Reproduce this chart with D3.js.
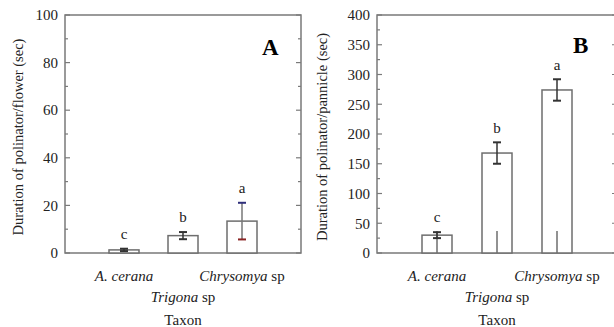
<!DOCTYPE html>
<html>
<head>
<meta charset="utf-8">
<script src="https://cdn.jsdelivr.net/npm/d3@7"></script>
<style>
  body { margin: 0; background: #fff; }
  svg { display: block; }
</style>
</head>
<body>
<svg id="chart" width="614" height="327"></svg>
<script>
// Taxa on the x axis (italic genus part + plain suffix)
const taxonItalic = ["A. cerana", "Trigona", "Chrysomya"];
const taxonSuffix = ["", " sp", " sp"];

// Panel A: duration per flower (sec)
const flowerMeans = [1.3, 7.3, 13.4];
const flowerErr = [0.5, 1.5, 7.7];
const flowerLetters = ["c", "b", "a"];
const flowerTicks = [0, 20, 40, 60, 80, 100];
const flowerMinor = [10, 30, 50, 70, 90];

// Panel B: duration per panicle (sec)
const panicleMeans = [30, 168, 274];
const panicleErr = [5, 18, 18];
const panicleStub = [37, 37, 37];
const panicleLetters = ["c", "b", "a"];
const panicleTicks = [0, 50, 100, 150, 200, 250, 300, 350, 400];
const panicleMinor = [25, 75, 125, 175, 225, 275, 325, 375];

const FONT = "Liberation Serif";
const svg = d3.select("#chart");
const TOP = 15, BOTTOM = 253;
const AXIS = "#7a7a7a", INK = "#222";

function drawPanel(opts) {
  const g = svg.append("g").attr("font-family", FONT);
  const x = d3.scaleLinear().domain([0, 4]).range([opts.left, opts.right]);
  const y = d3.scaleLinear().domain([0, opts.max]).range([BOTTOM, TOP]);
  const barW = 30;

  // frame
  g.append("path")
    .attr("d", `M${opts.left},${BOTTOM}V${TOP}H${opts.right}V${BOTTOM}Z`)
    .attr("fill", "none").attr("stroke", AXIS).attr("stroke-width", 1.5);

  // ticks (inward on both sides)
  const tickG = g.append("g").attr("stroke", AXIS).attr("stroke-width", 1.2);
  opts.ticks.forEach(t => {
    tickG.append("line").attr("x1", opts.left).attr("x2", opts.left + 5)
      .attr("y1", y(t)).attr("y2", y(t));
    tickG.append("line").attr("x1", opts.right).attr("x2", opts.right - 5)
      .attr("y1", y(t)).attr("y2", y(t));
  });
  opts.minor.forEach(t => {
    tickG.append("line").attr("x1", opts.left).attr("x2", opts.left + 3)
      .attr("y1", y(t)).attr("y2", y(t));
    tickG.append("line").attr("x1", opts.right).attr("x2", opts.right - 3)
      .attr("y1", y(t)).attr("y2", y(t));
  });

  g.selectAll(".tl").data(opts.ticks).join("text")
    .attr("x", opts.left - 7).attr("y", d => y(d)).attr("dy", "0.35em")
    .attr("text-anchor", "end").attr("font-size", 15).attr("fill", INK)
    .text(d => d);

  // bars
  g.selectAll(".bar").data(opts.means).join("rect")
    .attr("x", (d, i) => x(i + 1) - barW / 2)
    .attr("y", d => y(d))
    .attr("width", barW)
    .attr("height", d => BOTTOM - y(d))
    .attr("fill", "#fff").attr("stroke", "#6e6e6e").attr("stroke-width", 1.5);

  // stubs from baseline
  if (opts.stub) {
    g.selectAll(".stub").data(opts.stub).join("line")
      .attr("x1", (d, i) => x(i + 1)).attr("x2", (d, i) => x(i + 1))
      .attr("y1", BOTTOM).attr("y2", d => y(d))
      .attr("stroke", "#6e6e6e").attr("stroke-width", 1.5);
  }

  // error bars + significance letters
  opts.means.forEach((m, i) => {
    const cx = x(i + 1);
    const hi = y(m + opts.err[i]), lo = y(m - opts.err[i]);
    const eg = g.append("g").attr("stroke-width", 1.5);
    eg.append("line").attr("x1", cx).attr("x2", cx).attr("y1", hi).attr("y2", lo)
      .attr("stroke", opts.errLine[i]);
    eg.append("line").attr("x1", cx - 4).attr("x2", cx + 4).attr("y1", hi).attr("y2", hi)
      .attr("stroke", opts.capTop[i]).attr("stroke-width", 2);
    eg.append("line").attr("x1", cx - 4).attr("x2", cx + 4).attr("y1", lo).attr("y2", lo)
      .attr("stroke", opts.capBot[i]).attr("stroke-width", 2);
    g.append("text").attr("x", cx).attr("y", hi - 15).attr("dy", "0.35em")
      .attr("text-anchor", "middle").attr("font-size", 15).attr("fill", INK)
      .text(opts.letters[i]);
  });

  // category labels
  taxonItalic.forEach((name, i) => {
    const t = g.append("text").attr("x", x(i + 1)).attr("y", i % 2 ? 302 : 281)
      .attr("text-anchor", "middle").attr("font-size", 15).attr("fill", INK);
    t.append("tspan").attr("font-style", "italic").text(name);
    if (taxonSuffix[i]) t.append("tspan").text(taxonSuffix[i]);
  });
  g.append("text").attr("x", x(2)).attr("y", 325)
    .attr("text-anchor", "middle").attr("font-size", 15).attr("fill", INK)
    .text("Taxon");

  // y title
  g.append("text")
    .attr("transform", `translate(${opts.titleX},${(TOP + BOTTOM) / 2 + 3}) rotate(-90)`)
    .attr("dy", "0.35em").attr("text-anchor", "middle")
    .attr("font-size", 14.5).attr("fill", INK)
    .text(opts.title);

  // panel letter
  g.append("text").attr("x", opts.letterX).attr("y", opts.letterY)
    .attr("font-size", 23).attr("font-weight", "bold").attr("fill", "#000")
    .text(opts.letter);
}

drawPanel({
  left: 65, right: 301, max: 100,
  ticks: flowerTicks, minor: flowerMinor,
  means: flowerMeans, err: flowerErr, letters: flowerLetters,
  errLine: ["#333", "#333", "#777"],
  capTop: ["#333", "#333", "#2e2e7a"],
  capBot: ["#333", "#333", "#8a2323"],
  title: "Duration of polinator/flower (sec)", titleX: 18,
  letter: "A", letterX: 262, letterY: 55
});

drawPanel({
  left: 377, right: 617, max: 400,
  ticks: panicleTicks, minor: panicleMinor,
  means: panicleMeans, err: panicleErr, letters: panicleLetters, stub: panicleStub,
  errLine: ["#333", "#333", "#333"],
  capTop: ["#333", "#333", "#333"],
  capBot: ["#333", "#333", "#333"],
  title: "Duration of polinator/pannicle (sec)", titleX: 322,
  letter: "B", letterX: 573, letterY: 53
});
</script>
</body>
</html>
